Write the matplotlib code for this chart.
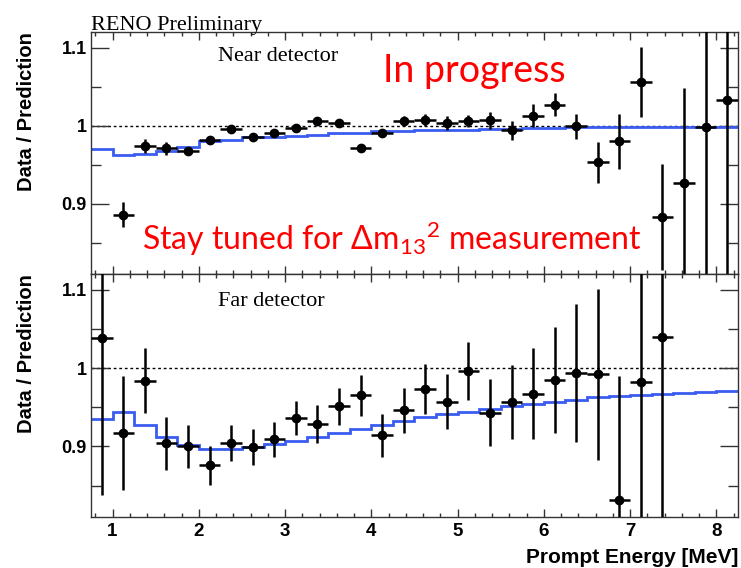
import matplotlib
matplotlib.use("Agg")
import matplotlib.pyplot as plt
from matplotlib.ticker import MultipleLocator, FixedLocator

# bin edges of the prediction histograms (MeV)
edges = [0.75, 1.0, 1.25, 1.5, 1.75, 2.0, 2.25, 2.5, 2.75, 3.0, 3.25, 3.5, 3.75,
         4.0, 4.25, 4.5, 4.75, 5.0, 5.25, 5.5, 5.75, 6.0, 6.25, 6.5, 6.75, 7.0,
         7.25, 7.5, 7.75, 8.0, 8.25]

near_pred = [0.970, 0.963, 0.964, 0.968, 0.973, 0.980, 0.982, 0.985, 0.986, 0.987,
             0.988, 0.990, 0.991, 0.993, 0.993, 0.994, 0.995, 0.995, 0.996, 0.996,
             0.997, 0.997, 0.998, 0.998, 0.998, 0.998, 0.998, 0.998, 0.998, 0.998]
far_pred = [0.935, 0.944, 0.928, 0.912, 0.902, 0.897, 0.897, 0.899, 0.903, 0.907,
            0.912, 0.917, 0.922, 0.927, 0.932, 0.937, 0.941, 0.944, 0.948, 0.951,
            0.954, 0.957, 0.959, 0.9625, 0.964, 0.9655, 0.967, 0.968, 0.970, 0.971]

# near detector data points
near_x = [1.125, 1.375, 1.625, 1.875, 2.125, 2.375, 2.625, 2.875, 3.125, 3.375,
          3.625, 3.875, 4.125, 4.375, 4.625, 4.875, 5.125, 5.375, 5.625, 5.875,
          6.125, 6.375, 6.625, 6.875, 7.125, 7.375, 7.625, 7.875, 8.125]
near_y = [0.886, 0.974, 0.971, 0.967, 0.982, 0.996, 0.986, 0.991, 0.997, 1.006,
          1.003, 0.971, 0.991, 1.006, 1.007, 1.004, 1.006, 1.007, 0.994, 1.013,
          1.027, 0.999, 0.953, 0.980, 1.056, 0.883, 0.926, 0.998, 1.033]
near_err = [0.016, 0.009, 0.008, 0.005, 0.005, 0.004, 0.004, 0.004, 0.004, 0.005,
            0.005, 0.004, 0.005, 0.007, 0.008, 0.009, 0.008, 0.011, 0.012, 0.015,
            0.015, 0.016, 0.026, 0.035, 0.045, 0.068, 0.122, 0.3, 0.3]

# far detector data points
far_x = [0.875, 1.125, 1.375, 1.625, 1.875, 2.125, 2.375, 2.625, 2.875, 3.125,
         3.375, 3.625, 3.875, 4.125, 4.375, 4.625, 4.875, 5.125, 5.375, 5.625,
         5.875, 6.125, 6.375, 6.625, 6.875, 7.125, 7.375]
far_y = [1.038, 0.917, 0.984, 0.904, 0.900, 0.876, 0.905, 0.899, 0.909, 0.936,
         0.929, 0.951, 0.965, 0.914, 0.946, 0.973, 0.957, 0.996, 0.943, 0.957,
         0.967, 0.985, 0.994, 0.992, 0.832, 0.982, 1.040]
far_err = [0.2, 0.073, 0.041, 0.034, 0.027, 0.025, 0.023, 0.023, 0.022, 0.022,
           0.024, 0.024, 0.026, 0.027, 0.029, 0.032, 0.035, 0.037, 0.043, 0.047,
           0.058, 0.068, 0.088, 0.109, 0.158, 0.25, 0.3]

xticks = [1, 2, 3, 4, 5, 6, 7, 8]
xtick_labels = ['1', '2', '3', '4', '5', '6', '7', '8']

half_bin = 0.125
blue = '#3a5cf0'
red = '#ff0000'

plt.rcParams['font.family'] = ['Liberation Sans', 'DejaVu Sans']
plt.rcParams['mathtext.fontset'] = 'custom'
plt.rcParams['mathtext.rm'] = 'Lato'
plt.rcParams['mathtext.it'] = 'Lato'

fig = plt.figure(figsize=(7.41, 5.68), dpi=100)
ax1 = fig.add_axes([0.1228, 0.5176, 0.8731, 0.4261])
ax2 = fig.add_axes([0.1228, 0.0898, 0.8731, 0.4278])

panels = [(ax1, near_x, near_y, near_err, near_pred, 'Near detector', 0.893),
          (ax2, far_x, far_y, far_err, far_pred, 'Far detector', 0.461)]

for ax, xs, ys, errs, pred, name, ty in panels:
    ax.axhline(1.0, color='black', lw=1.0, ls=(0, (2, 2)), zorder=1)
    ax.stairs(pred, edges, baseline=None, color=blue, lw=2.0, zorder=2)
    ax.errorbar(xs, ys, yerr=errs, xerr=half_bin, fmt='o', color='black',
                ms=6, elinewidth=1.8, capsize=0, zorder=3)
    ax.set_xlim(0.75, 8.25)
    ax.set_ylim(0.81, 1.12)
    ax.yaxis.set_major_locator(FixedLocator([0.9, 1.0, 1.1]))
    ax.yaxis.set_minor_locator(MultipleLocator(0.05))
    ax.set_xticks(xticks)
    ax.xaxis.set_minor_locator(MultipleLocator(0.2))
    ax.set_yticklabels(['0.9', '1', '1.1'], fontsize=13, fontweight='bold')
    ax.tick_params(which='both', direction='in', top=True, right=True, width=1.0,
                   color='#333333')
    ax.tick_params(axis='y', which='major', length=13, pad=3)
    ax.tick_params(axis='y', which='minor', length=7)
    ax.tick_params(axis='x', which='major', length=6, pad=4)
    ax.tick_params(axis='x', which='minor', length=3)
    for s in ax.spines.values():
        s.set_color('#333333')
        s.set_linewidth(1.0)
    ax.text(-0.1, 1.0, 'Data / Prediction', transform=ax.transAxes, rotation=90,
            ha='center', va='top', fontsize=14.5, fontweight='bold')
    fig.text(0.294, ty, name, family='Liberation Serif', fontsize=16, va='baseline')

ax1.tick_params(axis='x', labelbottom=False)
ax2.set_xticklabels(xtick_labels, fontsize=13.5, fontweight='bold')

fig.text(0.996, 1 - 563 / 568, 'Prompt Energy [MeV]', ha='right', va='baseline',
         fontsize=15, fontweight='bold')
fig.text(0.1228, 0.947, 'RENO Preliminary', family='Liberation Serif', fontsize=16,
         va='baseline')

fig.text(0.517, 0.856, 'In progress', family='Lato', color=red, fontsize=27,
         va='baseline')
fig.text(0.191, 0.560, r'Stay tuned for $\mathregular{\Delta m_{13}{}^{2}}$ measurement',
         family='Lato', color=red, fontsize=23, va='baseline')

fig.savefig('out.png', dpi=100)
